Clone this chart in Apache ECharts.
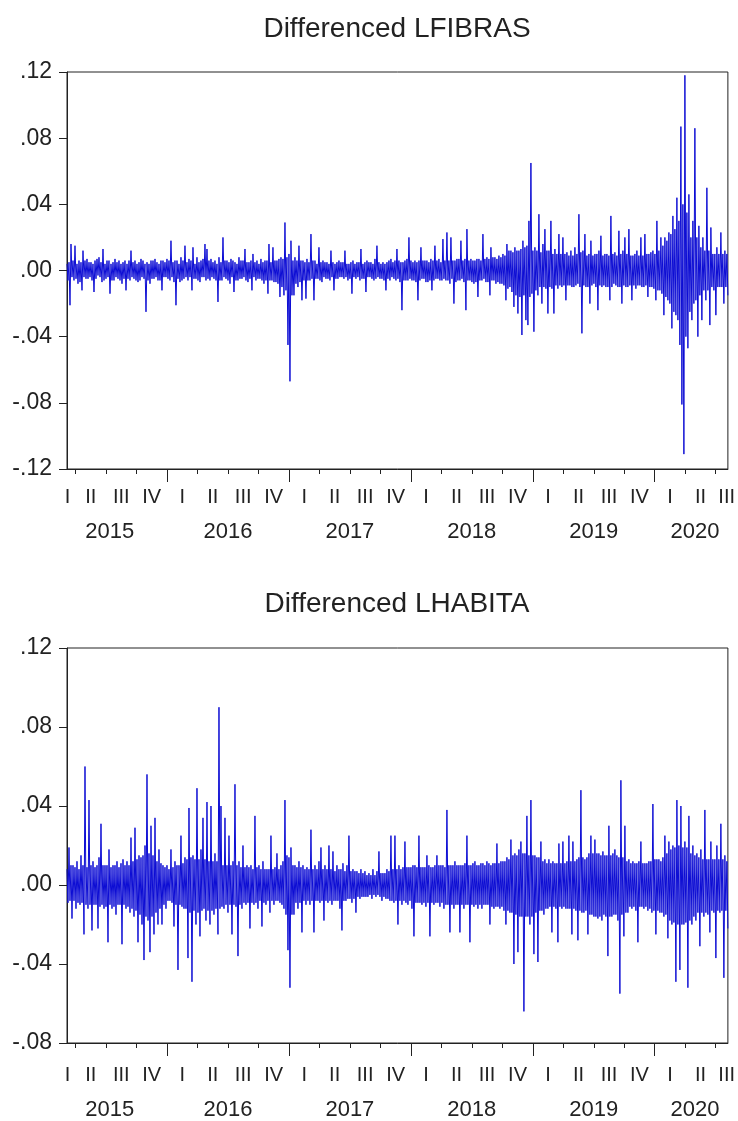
<!DOCTYPE html>
<html><head><meta charset="utf-8">
<script src="https://cdn.jsdelivr.net/npm/echarts@6/dist/echarts.min.js"></script>
<style>html,body{margin:0;padding:0;background:#fff}#c{width:738px;height:1121px}</style>
</head><body><div id="c"></div>
<script>
const titles = ['Differenced LFIBRAS', 'Differenced LHABITA'];

const lfibras = [
 .004,-.006,.005,-.021,.016,-.004,.006,-.006,.015,-.005,.004,-.008,.006,-.007,.005,-.012,.012,-.004,.006,-.005,
 .007,-.005,.005,-.004,.005,-.006,.004,-.013,.006,-.005,.007,-.003,.008,-.004,.005,-.007,.013,-.006,.004,-.005,
 .006,-.004,.006,-.014,.004,-.006,.005,-.006,.007,-.004,.005,-.005,.006,-.006,.004,-.008,.005,-.005,.006,-.012,
 .004,-.005,.006,-.006,.012,-.004,.005,-.005,.006,-.006,.004,-.007,.005,-.006,.007,-.004,.006,-.005,.004,-.025,
 .005,-.006,.004,-.008,.006,-.005,.006,-.005,.007,-.004,.005,-.006,.004,-.006,.006,-.012,.006,-.004,.005,-.004,
 .007,-.005,.006,-.006,.018,-.004,.005,-.007,.006,-.021,.006,-.005,.004,-.007,.008,-.006,.006,-.005,.015,-.004,
 .005,-.006,.007,-.004,.006,-.012,.014,-.005,.004,-.005,.008,-.006,.005,-.007,.006,-.004,.007,-.004,.016,-.006,
 .013,-.005,.006,-.006,.007,-.004,.005,-.005,.006,-.006,.004,-.019,.008,-.006,.005,-.006,.020,-.004,.006,-.005,
 .006,-.006,.005,-.008,.007,-.004,.006,-.013,.005,-.006,.004,-.006,.008,-.005,.006,-.005,.006,-.004,.013,-.006,
 .005,-.007,.005,-.005,.006,-.012,.010,-.004,.005,-.006,.006,-.005,.004,-.005,.007,-.006,.005,-.008,.006,-.006,
 .006,-.014,.016,-.006,.005,-.006,.014,-.007,.006,-.007,.006,-.008,.007,-.016,.008,-.010,.007,-.015,.029,-.012,
 .008,-.045,.010,-.067,.018,-.015,.006,-.015,.008,-.008,.006,-.010,.015,-.007,.006,-.018,.006,-.006,.005,-.017,
 .007,-.006,.005,-.006,.022,-.005,.006,-.018,.006,-.005,.004,-.005,.014,-.006,.005,-.007,.006,-.004,.005,-.005,
 .005,-.005,.004,-.006,.012,-.004,.005,-.012,.004,-.005,.005,-.005,.006,-.004,.005,-.004,.005,-.005,.012,-.004,
 .004,-.006,.004,-.005,.005,-.014,.006,-.004,.004,-.005,.005,-.004,.005,-.006,.013,-.005,.004,-.005,.005,-.013,
 .006,-.004,.005,-.004,.005,-.005,.004,-.006,.007,-.005,.015,-.004,.005,-.005,.004,-.005,.005,-.006,.004,-.012,
 .005,-.005,.006,-.006,.007,-.004,.005,-.005,.006,-.006,.013,-.005,.006,-.007,.005,-.024,.005,-.006,.006,-.006,
 .007,-.006,.020,-.005,.006,-.006,.005,-.006,.006,-.007,.005,-.018,.006,-.006,.014,-.005,.006,-.005,.006,-.007,
 .006,-.007,.005,-.006,.007,-.012,.006,-.006,.015,-.005,.006,-.005,.007,-.006,.005,-.006,.019,-.005,.006,-.006,
 .023,-.006,.006,-.008,.020,-.005,.006,-.020,.006,-.007,.007,-.006,.007,-.006,.018,-.005,.006,-.007,.007,-.024,
 .025,-.006,.006,-.006,.007,-.007,.006,-.008,.006,-.007,.007,-.016,.007,-.006,.006,-.006,.022,-.005,.007,-.007,
 .008,-.007,.007,-.015,.014,-.006,.008,-.006,.008,-.008,.007,-.007,.009,-.008,.008,-.008,.010,-.009,.009,-.018,
 .016,-.011,.012,-.010,.012,-.013,.011,-.022,.014,-.015,.012,-.026,.012,-.016,.013,-.039,.018,-.015,.014,-.030,
 .015,-.033,.030,-.016,.065,-.014,.012,-.037,.014,-.012,.012,-.015,.034,-.010,.011,-.020,.016,-.010,.025,-.011,
 .012,-.026,.012,-.010,.030,-.011,.010,-.026,.013,-.009,.010,-.011,.022,-.009,.010,-.010,.020,-.009,.010,-.018,
 .011,-.009,.009,-.009,.012,-.010,.009,-.010,.014,-.009,.010,-.008,.034,-.010,.011,-.038,.012,-.009,.022,-.010,
 .009,-.010,.010,-.020,.018,-.009,.009,-.008,.010,-.010,.010,-.024,.012,-.009,.021,-.010,.009,-.009,.010,-.010,
 .010,-.010,.009,-.018,.033,-.010,.010,-.008,.011,-.009,.009,-.010,.024,-.010,.010,-.020,.012,-.009,.020,-.010,
 .010,-.010,.025,-.009,.009,-.018,.009,-.009,.010,-.011,.012,-.009,.009,-.009,.020,-.010,.009,-.010,.022,-.009,
 .010,-.016,.010,-.010,.011,-.010,.012,-.011,.010,-.018,.030,-.012,.012,-.012,.020,-.014,.015,-.027,.020,-.016,
 .018,-.018,.023,-.020,.022,-.035,.033,-.025,.025,-.027,.044,-.030,.030,-.045,.087,-.081,.040,-.111,.118,-.040,
 .035,-.047,.046,-.025,.020,-.030,.030,-.020,.086,-.018,.020,-.040,.027,-.015,.014,-.030,.020,-.012,.012,-.018,
 .050,-.012,.012,-.033,.026,-.010,.010,-.012,.010,-.027,.014,-.010,.010,-.010,.023,-.010,.010,-.020,.012,-.010,
 .010,-.015
];

const lhabita = [
 .008,-.009,.019,-.008,.010,-.017,.010,-.008,.009,-.012,.012,-.009,.008,-.010,.015,-.009,.010,-.025,.060,-.010,
 .009,-.012,.043,-.010,.010,-.023,.012,-.010,.009,-.010,.010,-.022,.014,-.011,.031,-.010,.010,-.012,.010,-.011,
 .010,-.029,.018,-.010,.009,-.012,.010,-.011,.010,-.015,.012,-.010,.009,-.010,.011,-.030,.013,-.010,.010,-.012,
 .012,-.011,.010,-.014,.024,-.012,.012,-.016,.029,-.013,.013,-.029,.015,-.015,.014,-.020,.015,-.038,.020,-.016,
 .056,-.018,.016,-.034,.030,-.016,.015,-.025,.034,-.014,.012,-.020,.018,-.012,.011,-.020,.010,-.010,.009,-.012,
 .010,-.008,.008,-.008,.018,-.009,.009,-.021,.012,-.010,.010,-.043,.010,-.010,.025,-.011,.011,-.012,.014,-.012,
 .013,-.037,.039,-.014,.014,-.049,.015,-.013,.013,-.020,.049,-.014,.013,-.026,.018,-.013,.034,-.012,.013,-.018,
 .042,-.013,.012,-.020,.040,-.013,.012,-.015,.016,-.012,.012,-.025,.090,-.012,.040,-.011,.010,-.012,.034,-.010,
 .010,-.014,.025,-.010,.010,-.025,.012,-.010,.051,-.011,.010,-.036,.012,-.010,.009,-.012,.020,-.009,.009,-.010,
 .010,-.009,.009,-.022,.010,-.009,.008,-.010,.035,-.009,.009,-.012,.010,-.008,.008,-.021,.012,-.009,.008,-.010,
 .008,-.008,.008,-.014,.025,-.008,.008,-.010,.009,-.008,.016,-.008,.008,-.009,.010,-.010,.012,-.012,.043,-.015,
 .015,-.033,.014,-.052,.019,-.015,.010,-.015,.010,-.009,.009,-.012,.012,-.009,.009,-.024,.010,-.008,.008,-.010,
 .009,-.008,.008,-.010,.028,-.008,.008,-.024,.010,-.008,.008,-.008,.012,-.009,.019,-.008,.008,-.018,.010,-.008,
 .008,-.009,.020,-.008,.008,-.010,.017,-.008,.007,-.008,.010,-.008,.008,-.012,.008,-.023,.011,-.008,.007,-.008,
 .010,-.007,.025,-.007,.007,-.009,.008,-.007,.007,-.014,.007,-.006,.006,-.007,.008,-.006,.006,-.006,.007,-.006,
 .005,-.006,.006,-.005,.005,-.007,.008,-.005,.005,-.006,.007,-.005,.017,-.006,.006,-.008,.006,-.006,.006,-.007,
 .008,-.007,.007,-.008,.025,-.008,.008,-.009,.025,-.008,.008,-.020,.010,-.008,.008,-.010,.009,-.008,.022,-.009,
 .009,-.010,.009,-.008,.009,-.012,.010,-.026,.010,-.009,.009,-.009,.025,-.009,.009,-.010,.009,-.009,.009,-.011,
 .015,-.009,.010,-.026,.009,-.009,.009,-.010,.010,-.009,.015,-.009,.010,-.011,.010,-.009,.010,-.012,.009,-.010,
 .038,-.010,.010,-.024,.010,-.010,.010,-.012,.012,-.010,.010,-.010,.010,-.024,.010,-.010,.010,-.012,.011,-.010,
 .025,-.010,.010,-.029,.010,-.010,.011,-.011,.012,-.010,.010,-.012,.010,-.010,.011,-.012,.011,-.010,.010,-.010,
 .012,-.010,.011,-.020,.010,-.011,.011,-.012,.011,-.011,.021,-.011,.011,-.012,.012,-.011,.012,-.013,.012,-.020,
 .014,-.013,.013,-.014,.023,-.014,.015,-.040,.016,-.015,.015,-.034,.018,-.016,.022,-.016,.016,-.064,.016,-.016,
 .035,-.016,.015,-.020,.043,-.016,.015,-.035,.015,-.014,.014,-.039,.014,-.013,.022,-.013,.012,-.015,.013,-.012,
 .011,-.012,.013,-.011,.011,-.024,.012,-.011,.011,-.012,.011,-.029,.021,-.011,.011,-.012,.022,-.011,.011,-.012,
 .012,-.012,.025,-.012,.012,-.025,.022,-.012,.012,-.013,.013,-.028,.014,-.013,.048,-.014,.014,-.014,.013,-.013,
 .014,-.025,.016,-.015,.025,-.015,.016,-.016,.023,-.016,.016,-.017,.016,-.016,.015,-.018,.017,-.015,.015,-.016,
 .015,-.036,.030,-.016,.015,-.016,.016,-.015,.018,-.015,.015,-.018,.014,-.055,.053,-.015,.014,-.026,.030,-.014,
 .012,-.014,.013,-.011,.011,-.012,.012,-.011,.011,-.013,.011,-.029,.012,-.011,.022,-.011,.011,-.012,.011,-.011,
 .011,-.013,.012,-.012,.012,-.014,.041,-.013,.013,-.025,.013,-.013,.013,-.014,.012,-.014,.014,-.016,.025,-.015,
 .016,-.027,.022,-.018,.018,-.020,.020,-.019,.019,-.049,.043,-.020,.020,-.043,.040,-.020,.019,-.020,.022,-.019,
 .019,-.052,.035,-.018,.016,-.020,.020,-.016,.015,-.018,.016,-.014,.014,-.031,.018,-.014,.013,-.016,.038,-.014,
 .013,-.015,.013,-.024,.022,-.013,.013,-.014,.013,-.037,.020,-.013,.013,-.014,.031,-.013,.013,-.047,.015,-.013,
 .012,-.022
];

// sample span in fractional years (first and last observation)
const sampleStart = 2015.18, sampleEnd = 2020.6;
const quarterTicks = [2015.25,2015.5,2015.75,2016,2016.25,2016.5,2016.75,2017,2017.25,2017.5,2017.75,2018,2018.25,2018.5,2018.75,2019,2019.25,2019.5,2019.75,2020,2020.25,2020.5];
const quarterLabelPos = [2015.185,2015.375,2015.625,2015.875,2016.125,2016.375,2016.625,2016.875,2017.125,2017.375,2017.625,2017.875,2018.125,2018.375,2018.625,2018.875,2019.125,2019.375,2019.625,2019.875,2020.125,2020.375,2020.59];
const quarterLabels = ['I','II','III','IV','I','II','III','IV','I','II','III','IV','I','II','III','IV','I','II','III','IV','I','II','III'];
const yearTicks = [2016,2017,2018,2019,2020];
const yearLabelPos = [2015.53,2016.5,2017.5,2018.5,2019.5,2020.33];
const yearLabels = ['2015','2016','2017','2018','2019','2020'];
const yTop = {min:-0.12, max:0.12, interval:0.04};
const yBot = {min:-0.08, max:0.12, interval:0.04};

const FONT = "'Liberation Sans', Arial, sans-serif";
const TXT = '#222';
const LINE = '#0c0cd4';

function lookup(pos, labels){
  return v => { for (let i=0;i<pos.length;i++) if (Math.abs(pos[i]-v)<0.004) return labels[i]; return ''; };
}
function yFmt(v){ const s = Math.abs(v).toFixed(2).replace(/^0/,''); return (v < -1e-9 ? '-' : '') + s; }

const grids = [
  {left:67, top:72, width:661, height:397, qMargin:18, yMargin:52, y:yTop},
  {left:67, top:648, width:661, height:395, qMargin:22, yMargin:56, y:yBot}
];
const xAxis = [], yAxis = [], series = [];
grids.forEach((g, gi) => {
  const data = gi === 0 ? lfibras : lhabita;
  const base = xAxis.length;
  xAxis.push({gridIndex:gi, type:'category', boundaryGap:false, show:false, data:data.map((_, i) => i)});
  xAxis.push({gridIndex:gi, type:'value', position:'bottom', min:sampleStart, max:sampleEnd,
    axisLine:{show:true, lineStyle:{color:TXT, width:1}},
    axisTick:{show:true, customValues:quarterTicks, length:5, lineStyle:{color:TXT, width:1}},
    axisLabel:{show:true, customValues:quarterLabelPos, formatter:lookup(quarterLabelPos, quarterLabels), margin:g.qMargin, fontSize:20, fontFamily:FONT, color:TXT},
    splitLine:{show:false}});
  xAxis.push({gridIndex:gi, type:'value', position:'bottom', min:sampleStart, max:sampleEnd,
    axisLine:{show:false},
    axisTick:{show:true, customValues:yearTicks, length:13, lineStyle:{color:TXT, width:1}},
    axisLabel:{show:true, customValues:yearLabelPos, formatter:lookup(yearLabelPos, yearLabels), margin:g.yMargin, fontSize:22, fontFamily:FONT, color:TXT},
    splitLine:{show:false}});
  yAxis.push({gridIndex:gi, type:'value', min:g.y.min, max:g.y.max, interval:g.y.interval,
    axisLine:{show:true, lineStyle:{color:TXT, width:1}},
    axisTick:{show:true, inside:false, length:8, lineStyle:{color:TXT, width:1}},
    axisLabel:{formatter:yFmt, margin:15, fontSize:23, fontFamily:FONT, color:TXT},
    splitLine:{show:false}});
  series.push({type:'line', xAxisIndex:base, yAxisIndex:gi, data:data, showSymbol:false, symbol:'none',
    lineStyle:{color:LINE, width:1}, silent:true, animation:false});
});

const chart = echarts.init(document.getElementById('c'), null, {renderer:'canvas'});
chart.setOption({
  backgroundColor:'#fff',
  animation:false,
  grid: grids.map(g => ({left:g.left, top:g.top, width:g.width, height:g.height, show:true, borderColor:TXT, borderWidth:1, backgroundColor:'transparent'})),
  xAxis, yAxis, series,
  graphic: [
    {type:'text', x:397, y:29, style:{text:titles[0], x:0, y:0, textAlign:'center', textVerticalAlign:'middle', font:'28px ' + FONT, fill:TXT}},
    {type:'text', x:397, y:604, style:{text:titles[1], x:0, y:0, textAlign:'center', textVerticalAlign:'middle', font:'28px ' + FONT, fill:TXT}}
  ]
});
</script></body></html>
